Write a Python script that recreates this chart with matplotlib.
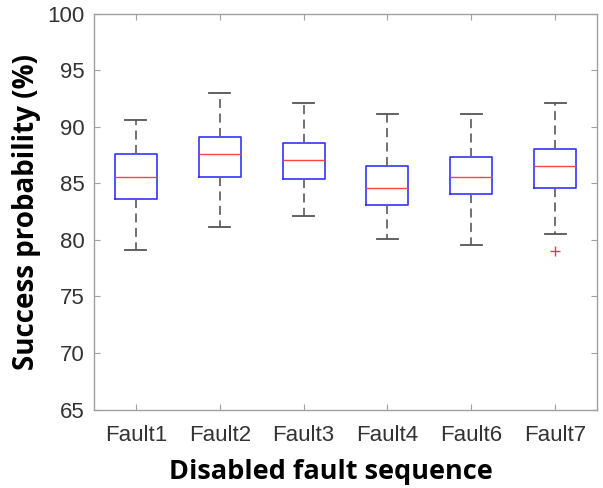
import matplotlib
matplotlib.use("Agg")
import matplotlib.pyplot as plt

# values
faults = ["Fault1", "Fault2", "Fault3", "Fault4", "Fault6", "Fault7"]
whislo = [79.1, 81.1, 82.1, 80.05, 79.55, 80.55]
q1 = [83.6, 85.55, 85.35, 83.05, 84.05, 84.55]
med = [85.55, 87.55, 87.05, 84.55, 85.55, 86.55]
q3 = [87.55, 89.05, 88.55, 86.55, 87.3, 88.05]
whishi = [90.6, 93.0, 92.05, 91.1, 91.1, 92.05]
fliers = [[], [], [], [], [], [79.05]]

stats = []
for i in range(len(faults)):
    stats.append(dict(label=faults[i], whislo=whislo[i], q1=q1[i], med=med[i],
                      q3=q3[i], whishi=whishi[i], fliers=fliers[i]))

fig = plt.figure(figsize=(6.03, 4.88), dpi=100)
ax = fig.add_axes([94/603, 1 - 409.5/488, 503/603, 396/488])

ax.bxp(stats, widths=0.5, capwidths=0.25, showfliers=True,
       boxprops=dict(color="#3333ff", linewidth=1.2),
       medianprops=dict(color="#ff4444", linewidth=1.0),
       whiskerprops=dict(color="#666666", linewidth=1.3, linestyle=(0, (5, 3))),
       capprops=dict(color="#555555", linewidth=1.3),
       flierprops=dict(marker="+", markeredgecolor="#ff3333", markersize=7,
                       linestyle="none"))

ax.set_xlim(0.5, 6.5)
ax.set_ylim(65, 100)
ax.set_yticks(range(65, 101, 5))
ax.set_xticks(range(1, 7))
ax.set_xticklabels(faults)

for sp in ax.spines.values():
    sp.set_color("#a0a0a0")
    sp.set_linewidth(1.0)
ax.tick_params(direction="in", top=True, right=True, color="#a0a0a0",
               labelcolor="#333333", labelsize=16, length=4)
ax.tick_params(axis="x", pad=11)
ax.tick_params(axis="y", pad=7)
for lab in ax.get_xticklabels() + ax.get_yticklabels():
    lab.set_family(["Liberation Sans", "DejaVu Sans"])

ax.set_xlabel("Disabled fault sequence", fontsize=19.5, fontweight="bold",
              family=["Open Sans", "DejaVu Sans"])
ax.xaxis.set_label_coords(0.471, -0.125)
ax.set_ylabel("Success probability (%)", fontsize=20, fontweight="bold",
              family=["Open Sans", "DejaVu Sans"], labelpad=4)

fig.savefig("out.png", dpi=100)
